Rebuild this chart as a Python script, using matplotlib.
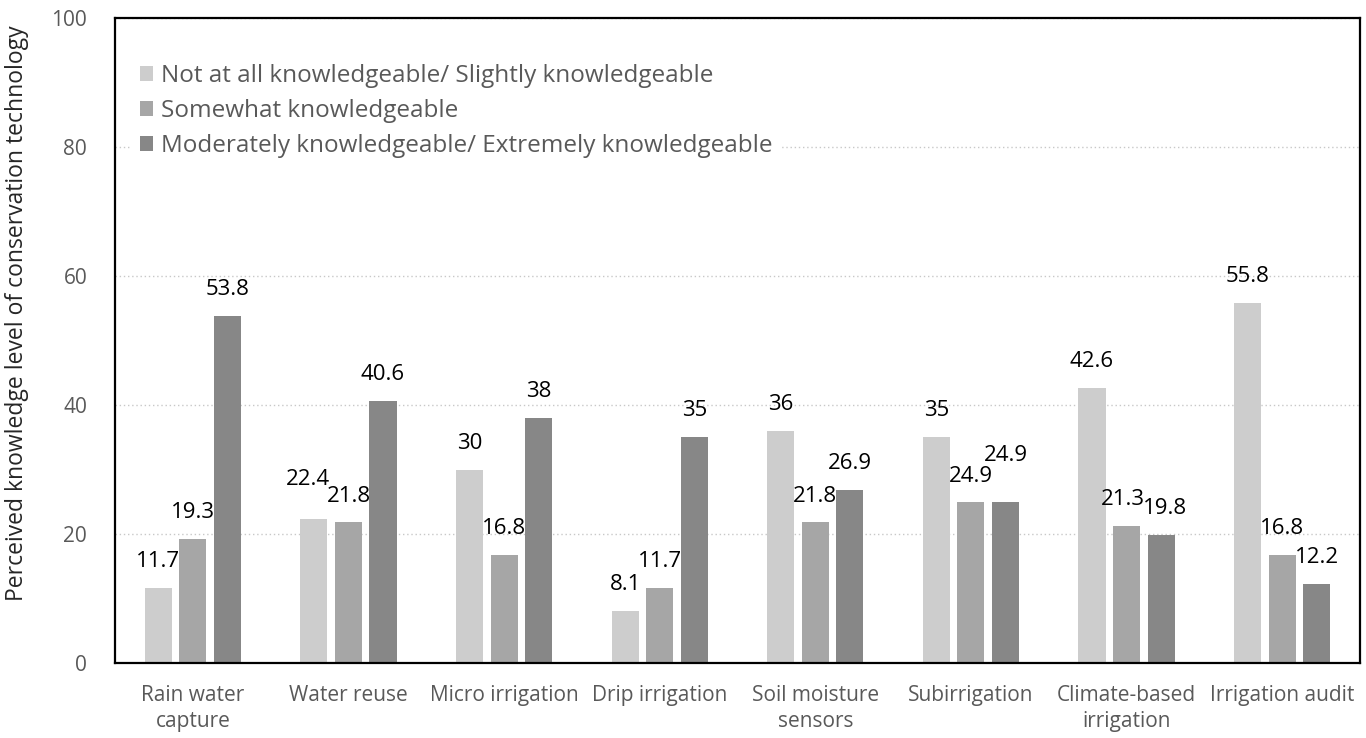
import numpy as np
import matplotlib.pyplot as plt

plt.rcParams["font.family"] = ["Open Sans", "DejaVu Sans"]

categories = ["Rain water\ncapture", "Water reuse", "Micro irrigation", "Drip irrigation",
              "Soil moisture\nsensors", "Subirrigation", "Climate-based\nirrigation",
              "Irrigation audit"]
low_knowledge = [11.7, 22.4, 30, 8.1, 36, 35, 42.6, 55.8]
some_knowledge = [19.3, 21.8, 16.8, 11.7, 21.8, 24.9, 21.3, 16.8]
high_knowledge = [53.8, 40.6, 38, 35, 26.9, 24.9, 19.8, 12.2]

series_names = ["Not at all knowledgeable/ Slightly knowledgeable",
                "Somewhat knowledgeable",
                "Moderately knowledgeable/ Extremely knowledgeable"]
series_colors = ["#cdcdcd", "#a6a6a6", "#878787"]
yticks = [0, 20, 40, 60, 80, 100]

GREY_TEXT = "#595959"
# labels pushed by hand so they don't collide: (group, series) -> (dx, dy) in points
label_nudge = {(1, 0): (-4, 9), (5, 2): (0, 15), (6, 1): (-3, 0), (6, 2): (3, 0)}

fig = plt.figure(figsize=(13.66, 7.38), dpi=100)
ax = fig.add_axes([0.0842, 0.1016, 0.9114, 0.874])

x = np.arange(len(categories))
step = 0.222
width = 0.174
for i, (vals, name, col) in enumerate(zip([low_knowledge, some_knowledge, high_knowledge],
                                          series_names, series_colors)):
    xs = x + (i - 1) * step
    ax.bar(xs, vals, width=width, color=col, label=name, zorder=2)
    for g, (xi, v) in enumerate(zip(xs, vals)):
        dx, dy = label_nudge.get((g, i), (0, 0))
        ax.annotate(f"{v:g}", (xi, v), xytext=(dx, 19 + dy), textcoords="offset points",
                    ha="center", va="center", fontsize=16, color="black")

ax.set_xlim(-0.5, len(categories) - 0.5)
ax.set_ylim(0, 100)
ax.set_yticks(yticks)
ax.set_xticks(x)
ax.set_xticklabels(categories, fontsize=15, color=GREY_TEXT, linespacing=1.3)
ax.tick_params(axis="y", length=0, pad=20, labelsize=15, labelcolor=GREY_TEXT)
ax.tick_params(axis="x", length=0, pad=16)
ax.yaxis.grid(True, linestyle=(0, (1, 2)), color="#c8c8c8", linewidth=1, zorder=0)
ax.set_axisbelow(True)
for spine in ax.spines.values():
    spine.set_color("black")
    spine.set_linewidth(1.6)

ax.set_ylabel("Perceived knowledge level of conservation technology",
              fontsize=16.5, color="#262626")
ax.yaxis.set_label_coords(-0.069, 0.543)

leg = ax.legend(loc="upper left", bbox_to_anchor=(0.006, 0.955), frameon=True,
                facecolor="white", edgecolor="none", framealpha=1, fontsize=17.5,
                handlelength=0.55, handleheight=0.55, handletextpad=0.35,
                labelspacing=0.45, borderpad=0.3, borderaxespad=0.4)
for t in leg.get_texts():
    t.set_color(GREY_TEXT)
leg.get_frame().set_boxstyle("square", pad=0)

fig.savefig("out.png", dpi=100, facecolor="white")
